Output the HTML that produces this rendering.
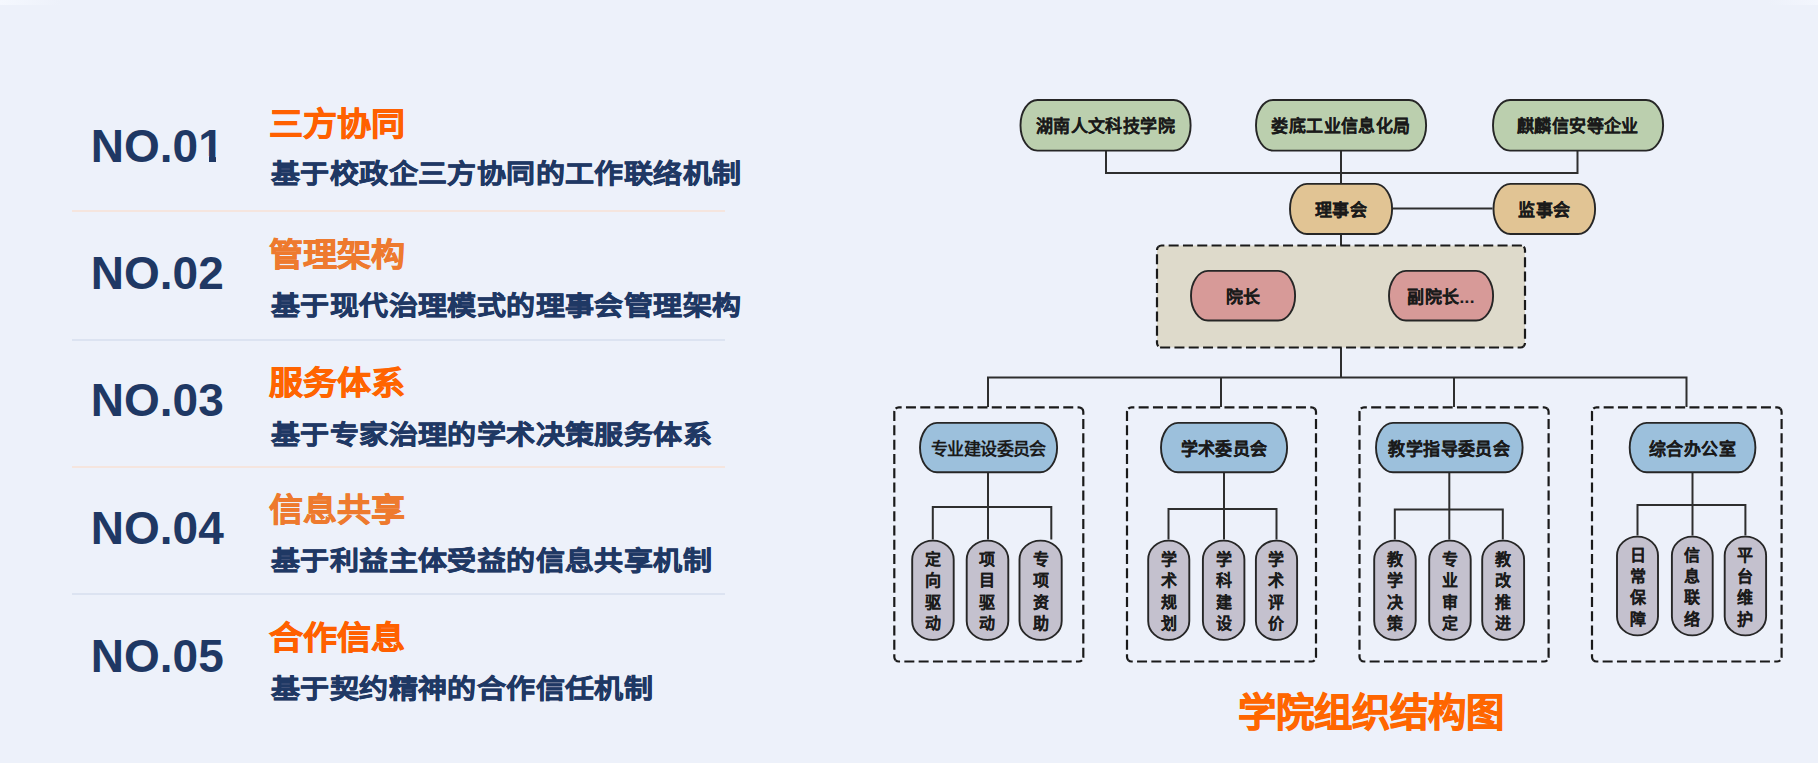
<!DOCTYPE html>
<html lang="zh-CN"><head><meta charset="utf-8"><title>学院组织结构图</title>
<style>
html,body{margin:0;padding:0}
body{width:1818px;height:763px;overflow:hidden;background:#EDF1FA;position:relative;font-family:"Liberation Sans",sans-serif}
.a{position:absolute;white-space:nowrap;line-height:1}
.no{font-size:46px;font-weight:bold;color:#1F3864;left:90.8px}
.hd{font-size:34px;font-weight:bold;left:269px;-webkit-text-stroke:0.8px currentColor;transform:scaleY(0.93);transform-origin:0 33px}
.sb{font-size:29px;font-weight:bold;color:#1F3864;left:271px;-webkit-text-stroke:0.7px #1F3864;letter-spacing:0.4px;transform:scaleY(0.92);transform-origin:0 27px}
.hr{position:absolute;left:72px;width:653px;height:2px}
.bx{position:absolute;display:flex;align-items:center;justify-content:center;box-sizing:border-box;padding-top:3px;font-size:17px;letter-spacing:0.4px;-webkit-text-stroke:0.1px #1A1A1A;font-weight:bold;color:#1A1A1A;line-height:1}
.vt{position:absolute;display:flex;flex-direction:column;align-items:center;justify-content:center;box-sizing:border-box;padding-top:3px;font-size:16px;-webkit-text-stroke:0.05px #1A1A1A;font-weight:bold;color:#1A1A1A;line-height:21.4px;text-align:center}
svg{position:absolute;left:0;top:0}
</style></head><body>

<div class="a no" style="top:123.0px">NO.01</div>
<div class="a hd" style="top:105.7px;color:#FF6000">三方协同</div>
<div class="a sb" style="top:159.2px">基于校政企三方协同的工作联络机制</div>
<div class="a no" style="top:250.0px">NO.02</div>
<div class="a hd" style="top:237.0px;color:#EE7A2E">管理架构</div>
<div class="a sb" style="top:290.5px">基于现代治理模式的理事会管理架构</div>
<div class="a no" style="top:377.0px">NO.03</div>
<div class="a hd" style="top:365.4px;color:#FF6400">服务体系</div>
<div class="a sb" style="top:420.3px">基于专家治理的学术决策服务体系</div>
<div class="a no" style="top:505.4px">NO.04</div>
<div class="a hd" style="top:492.0px;color:#EE7A2E">信息共享</div>
<div class="a sb" style="top:546.4px">基于利益主体受益的信息共享机制</div>
<div class="a no" style="top:632.9px">NO.05</div>
<div class="a hd" style="top:620.0px;color:#FF6000">合作信息</div>
<div class="a sb" style="top:674.3px">基于契约精神的合作信任机制</div>
<div style="position:absolute;left:199px;top:156px;width:9.8px;height:7px;background:#EDF1FA"></div><div style="position:absolute;left:215.9px;top:156px;width:8px;height:7px;background:#EDF1FA"></div>
<div class="hr" style="top:210.0px;background:#F5E5DE"></div>
<div class="hr" style="top:338.5px;background:#DCE3F1"></div>
<div class="hr" style="top:465.5px;background:#F5E5DE"></div>
<div class="hr" style="top:592.5px;background:#DCE3F1"></div>
<div style="position:absolute;left:0;top:0;width:60px;height:5px;background:linear-gradient(to right,#F5F8FE,#EDF1FA)"></div>
<div style="position:absolute;right:0;top:0;width:50px;height:5px;background:linear-gradient(to left,#F3F6FD,#EDF1FA)"></div>
<svg width="1818" height="763" viewBox="0 0 1818 763">
<path d="M1106.0 151.0 L1106.0 173.0 L1577.5 173.0 L1577.5 151.0" fill="none" stroke="#2E2E2E" stroke-width="2"/>
<path d="M1341.0 151.0 L1341.0 183.0" fill="none" stroke="#2E2E2E" stroke-width="2"/>
<path d="M1393.0 208.5 L1492.5 208.5" fill="none" stroke="#2E2E2E" stroke-width="2"/>
<path d="M1341.0 235.0 L1341.0 245.5" fill="none" stroke="#2E2E2E" stroke-width="2"/>
<path d="M1341.0 347.5 L1341.0 377.5" fill="none" stroke="#2E2E2E" stroke-width="2"/>
<path d="M988.0 407.0 L988.0 377.5 L1686.5 377.5 L1686.5 407.0" fill="none" stroke="#2E2E2E" stroke-width="2"/>
<path d="M1221.0 377.5 L1221.0 407.0" fill="none" stroke="#2E2E2E" stroke-width="2"/>
<path d="M1454.0 377.5 L1454.0 407.0" fill="none" stroke="#2E2E2E" stroke-width="2"/>
<path d="M895.62 408.62 A4.5 4.5 0 0 1 898.80 407.30 L1078.80 407.30 A4.5 4.5 0 0 1 1081.98 408.62" fill="none" stroke="#1A1A1A" stroke-width="2.2" stroke-dasharray="10 4.3" stroke-dashoffset="3.7"/>
<path d="M1081.98 408.62 A4.5 4.5 0 0 1 1083.30 411.80 L1083.30 657.00 A4.5 4.5 0 0 1 1081.98 660.18" fill="none" stroke="#1A1A1A" stroke-width="2.2" stroke-dasharray="10 4.3" stroke-dashoffset="3.7"/>
<path d="M1081.98 660.18 A4.5 4.5 0 0 1 1078.80 661.50 L898.80 661.50 A4.5 4.5 0 0 1 895.62 660.18" fill="none" stroke="#1A1A1A" stroke-width="2.2" stroke-dasharray="10 4.3" stroke-dashoffset="3.7"/>
<path d="M895.62 660.18 A4.5 4.5 0 0 1 894.30 657.00 L894.30 411.80 A4.5 4.5 0 0 1 895.62 408.62" fill="none" stroke="#1A1A1A" stroke-width="2.2" stroke-dasharray="10 4.3" stroke-dashoffset="3.7"/>
<path d="M988.0 473.0 L988.0 539.6" fill="none" stroke="#2E2E2E" stroke-width="2"/>
<path d="M932.8 539.6 L932.8 507.0 L1051.3 507.0 L1051.3 539.6" fill="none" stroke="#2E2E2E" stroke-width="2"/>
<path d="M1128.32 408.62 A4.5 4.5 0 0 1 1131.50 407.30 L1311.50 407.30 A4.5 4.5 0 0 1 1314.68 408.62" fill="none" stroke="#1A1A1A" stroke-width="2.2" stroke-dasharray="10 4.3" stroke-dashoffset="3.7"/>
<path d="M1314.68 408.62 A4.5 4.5 0 0 1 1316.00 411.80 L1316.00 657.00 A4.5 4.5 0 0 1 1314.68 660.18" fill="none" stroke="#1A1A1A" stroke-width="2.2" stroke-dasharray="10 4.3" stroke-dashoffset="3.7"/>
<path d="M1314.68 660.18 A4.5 4.5 0 0 1 1311.50 661.50 L1131.50 661.50 A4.5 4.5 0 0 1 1128.32 660.18" fill="none" stroke="#1A1A1A" stroke-width="2.2" stroke-dasharray="10 4.3" stroke-dashoffset="3.7"/>
<path d="M1128.32 660.18 A4.5 4.5 0 0 1 1127.00 657.00 L1127.00 411.80 A4.5 4.5 0 0 1 1128.32 408.62" fill="none" stroke="#1A1A1A" stroke-width="2.2" stroke-dasharray="10 4.3" stroke-dashoffset="3.7"/>
<path d="M1224.0 473.0 L1224.0 539.6" fill="none" stroke="#2E2E2E" stroke-width="2"/>
<path d="M1168.5 539.6 L1168.5 509.0 L1276.5 509.0 L1276.5 539.6" fill="none" stroke="#2E2E2E" stroke-width="2"/>
<path d="M1360.82 408.62 A4.5 4.5 0 0 1 1364.00 407.30 L1544.10 407.30 A4.5 4.5 0 0 1 1547.28 408.62" fill="none" stroke="#1A1A1A" stroke-width="2.2" stroke-dasharray="10 4.3" stroke-dashoffset="3.7"/>
<path d="M1547.28 408.62 A4.5 4.5 0 0 1 1548.60 411.80 L1548.60 657.00 A4.5 4.5 0 0 1 1547.28 660.18" fill="none" stroke="#1A1A1A" stroke-width="2.2" stroke-dasharray="10 4.3" stroke-dashoffset="3.7"/>
<path d="M1547.28 660.18 A4.5 4.5 0 0 1 1544.10 661.50 L1364.00 661.50 A4.5 4.5 0 0 1 1360.82 660.18" fill="none" stroke="#1A1A1A" stroke-width="2.2" stroke-dasharray="10 4.3" stroke-dashoffset="3.7"/>
<path d="M1360.82 660.18 A4.5 4.5 0 0 1 1359.50 657.00 L1359.50 411.80 A4.5 4.5 0 0 1 1360.82 408.62" fill="none" stroke="#1A1A1A" stroke-width="2.2" stroke-dasharray="10 4.3" stroke-dashoffset="3.7"/>
<path d="M1449.3 473.0 L1449.3 539.6" fill="none" stroke="#2E2E2E" stroke-width="2"/>
<path d="M1394.8 539.6 L1394.8 509.5 L1502.8 509.5 L1502.8 539.6" fill="none" stroke="#2E2E2E" stroke-width="2"/>
<path d="M1593.32 408.62 A4.5 4.5 0 0 1 1596.50 407.30 L1777.10 407.30 A4.5 4.5 0 0 1 1780.28 408.62" fill="none" stroke="#1A1A1A" stroke-width="2.2" stroke-dasharray="10 4.3" stroke-dashoffset="3.7"/>
<path d="M1780.28 408.62 A4.5 4.5 0 0 1 1781.60 411.80 L1781.60 657.00 A4.5 4.5 0 0 1 1780.28 660.18" fill="none" stroke="#1A1A1A" stroke-width="2.2" stroke-dasharray="10 4.3" stroke-dashoffset="3.7"/>
<path d="M1780.28 660.18 A4.5 4.5 0 0 1 1777.10 661.50 L1596.50 661.50 A4.5 4.5 0 0 1 1593.32 660.18" fill="none" stroke="#1A1A1A" stroke-width="2.2" stroke-dasharray="10 4.3" stroke-dashoffset="3.7"/>
<path d="M1593.32 660.18 A4.5 4.5 0 0 1 1592.00 657.00 L1592.00 411.80 A4.5 4.5 0 0 1 1593.32 408.62" fill="none" stroke="#1A1A1A" stroke-width="2.2" stroke-dasharray="10 4.3" stroke-dashoffset="3.7"/>
<path d="M1692.5 473.0 L1692.5 535.6" fill="none" stroke="#2E2E2E" stroke-width="2"/>
<path d="M1637.5 535.6 L1637.5 505.0 L1745.4 505.0 L1745.4 535.6" fill="none" stroke="#2E2E2E" stroke-width="2"/>
<rect x="1157.0" y="245.5" width="368.0" height="102.0" rx="4.5" fill="#DEDACB"/>
<path d="M1158.32 246.82 A4.5 4.5 0 0 1 1161.50 245.50 L1520.50 245.50 A4.5 4.5 0 0 1 1523.68 246.82" fill="none" stroke="#1A1A1A" stroke-width="2.2" stroke-dasharray="10 4.3" stroke-dashoffset="3.7"/>
<path d="M1523.68 246.82 A4.5 4.5 0 0 1 1525.00 250.00 L1525.00 343.00 A4.5 4.5 0 0 1 1523.68 346.18" fill="none" stroke="#1A1A1A" stroke-width="2.2" stroke-dasharray="10 4.3" stroke-dashoffset="3.7"/>
<path d="M1523.68 346.18 A4.5 4.5 0 0 1 1520.50 347.50 L1161.50 347.50 A4.5 4.5 0 0 1 1158.32 346.18" fill="none" stroke="#1A1A1A" stroke-width="2.2" stroke-dasharray="10 4.3" stroke-dashoffset="3.7"/>
<path d="M1158.32 346.18 A4.5 4.5 0 0 1 1157.00 343.00 L1157.00 250.00 A4.5 4.5 0 0 1 1158.32 246.82" fill="none" stroke="#1A1A1A" stroke-width="2.2" stroke-dasharray="10 4.3" stroke-dashoffset="3.7"/>
<rect x="1020.5" y="100.0" width="170.1" height="50.6" rx="17.0" ry="25.2" fill="#BBCFAE" stroke="#262626" stroke-width="1.9"/>
<rect x="1256.0" y="100.0" width="170.1" height="50.6" rx="17.0" ry="25.2" fill="#BBCFAE" stroke="#262626" stroke-width="1.9"/>
<rect x="1493.0" y="100.0" width="170.1" height="50.6" rx="17.0" ry="25.2" fill="#BBCFAE" stroke="#262626" stroke-width="1.9"/>
<rect x="1290.0" y="183.9" width="102.1" height="50.1" rx="17.0" ry="25.0" fill="#E1C494" stroke="#262626" stroke-width="1.9"/>
<rect x="1493.5" y="183.9" width="101.6" height="50.1" rx="17.0" ry="25.0" fill="#E1C494" stroke="#262626" stroke-width="1.9"/>
<rect x="1191.0" y="270.9" width="104.1" height="49.6" rx="17.0" ry="24.8" fill="#D79A98" stroke="#262626" stroke-width="1.9"/>
<rect x="1389.0" y="270.9" width="104.1" height="49.6" rx="17.0" ry="24.8" fill="#D79A98" stroke="#262626" stroke-width="1.9"/>
<rect x="920.0" y="422.9" width="137.1" height="49.4" rx="17.0" ry="24.7" fill="#9CC0DC" stroke="#262626" stroke-width="1.9"/>
<rect x="1161.0" y="422.9" width="126.1" height="49.4" rx="17.0" ry="24.7" fill="#9CC0DC" stroke="#262626" stroke-width="1.9"/>
<rect x="1376.0" y="422.9" width="146.6" height="49.4" rx="17.0" ry="24.7" fill="#9CC0DC" stroke="#262626" stroke-width="1.9"/>
<rect x="1629.7" y="422.9" width="125.7" height="49.4" rx="17.0" ry="24.7" fill="#9CC0DC" stroke="#262626" stroke-width="1.9"/>
<rect x="912.2" y="540.6" width="41.5" height="99.3" rx="20.7" ry="19.0" fill="#C4C1CE" stroke="#262626" stroke-width="1.9"/>
<rect x="966.7" y="540.6" width="41.6" height="99.3" rx="20.8" ry="19.0" fill="#C4C1CE" stroke="#262626" stroke-width="1.9"/>
<rect x="1019.5" y="540.6" width="42.2" height="99.3" rx="21.0" ry="19.0" fill="#C4C1CE" stroke="#262626" stroke-width="1.9"/>
<rect x="1148.2" y="540.6" width="41.1" height="99.3" rx="20.5" ry="19.0" fill="#C4C1CE" stroke="#262626" stroke-width="1.9"/>
<rect x="1202.9" y="540.6" width="41.5" height="99.3" rx="20.7" ry="19.0" fill="#C4C1CE" stroke="#262626" stroke-width="1.9"/>
<rect x="1255.9" y="540.6" width="41.2" height="99.3" rx="20.5" ry="19.0" fill="#C4C1CE" stroke="#262626" stroke-width="1.9"/>
<rect x="1374.2" y="540.6" width="41.5" height="99.3" rx="20.7" ry="19.0" fill="#C4C1CE" stroke="#262626" stroke-width="1.9"/>
<rect x="1429.2" y="540.6" width="41.5" height="99.3" rx="20.7" ry="19.0" fill="#C4C1CE" stroke="#262626" stroke-width="1.9"/>
<rect x="1482.2" y="540.6" width="41.9" height="99.3" rx="20.9" ry="19.0" fill="#C4C1CE" stroke="#262626" stroke-width="1.9"/>
<rect x="1617.0" y="536.6" width="41.0" height="98.8" rx="20.5" ry="19.0" fill="#C4C1CE" stroke="#262626" stroke-width="1.9"/>
<rect x="1671.9" y="536.6" width="40.8" height="98.8" rx="20.3" ry="19.0" fill="#C4C1CE" stroke="#262626" stroke-width="1.9"/>
<rect x="1724.7" y="536.6" width="41.4" height="98.8" rx="20.6" ry="19.0" fill="#C4C1CE" stroke="#262626" stroke-width="1.9"/>
</svg>
<div class="bx" style="left:1019.5px;top:99.0px;width:172.0px;height:52.5px">湖南人文科技学院</div>
<div class="bx" style="left:1255.0px;top:99.0px;width:172.0px;height:52.5px">娄底工业信息化局</div>
<div class="bx" style="left:1492.0px;top:99.0px;width:172.0px;height:52.5px">麒麟信安等企业</div>
<div class="bx" style="left:1289.0px;top:183.0px;width:104.0px;height:52.0px">理事会</div>
<div class="bx" style="left:1492.5px;top:183.0px;width:103.5px;height:52.0px">监事会</div>
<div class="bx" style="left:1190.0px;top:270.0px;width:106.0px;height:51.5px">院长</div>
<div class="bx" style="left:1388.0px;top:270.0px;width:106.0px;height:51.5px">副院长...</div>
<div class="bx" style="left:919.0px;top:422.0px;width:139.0px;height:51.3px;letter-spacing:-0.6px;font-weight:bold;-webkit-text-stroke:0px #1A1A1A">专业建设委员会</div>
<div class="bx" style="left:1160.0px;top:422.0px;width:128.0px;height:51.3px">学术委员会</div>
<div class="bx" style="left:1375.0px;top:422.0px;width:148.5px;height:51.3px">教学指导委员会</div>
<div class="bx" style="left:1628.7px;top:422.0px;width:127.6px;height:51.3px">综合办公室</div>
<div class="vt" style="left:911.2px;top:539.6px;width:43.4px;height:101.2px">定<br>向<br>驱<br>动</div>
<div class="vt" style="left:965.7px;top:539.6px;width:43.5px;height:101.2px">项<br>目<br>驱<br>动</div>
<div class="vt" style="left:1018.5px;top:539.6px;width:44.1px;height:101.2px">专<br>项<br>资<br>助</div>
<div class="vt" style="left:1147.3px;top:539.6px;width:43.0px;height:101.2px">学<br>术<br>规<br>划</div>
<div class="vt" style="left:1201.9px;top:539.6px;width:43.4px;height:101.2px">学<br>科<br>建<br>设</div>
<div class="vt" style="left:1254.9px;top:539.6px;width:43.1px;height:101.2px">学<br>术<br>评<br>价</div>
<div class="vt" style="left:1373.2px;top:539.6px;width:43.4px;height:101.2px">教<br>学<br>决<br>策</div>
<div class="vt" style="left:1428.2px;top:539.6px;width:43.4px;height:101.2px">专<br>业<br>审<br>定</div>
<div class="vt" style="left:1481.2px;top:539.6px;width:43.8px;height:101.2px">教<br>改<br>推<br>进</div>
<div class="vt" style="left:1616.1px;top:535.6px;width:42.9px;height:100.7px">日<br>常<br>保<br>障</div>
<div class="vt" style="left:1670.9px;top:535.6px;width:42.7px;height:100.7px">信<br>息<br>联<br>络</div>
<div class="vt" style="left:1723.7px;top:535.6px;width:43.3px;height:100.7px">平<br>台<br>维<br>护</div>
<div class="a" style="left:1238px;top:693.7px;font-size:38.3px;font-weight:bold;color:#FF6600;-webkit-text-stroke:1px #FF6600">学院组织结构图</div>
</body></html>
